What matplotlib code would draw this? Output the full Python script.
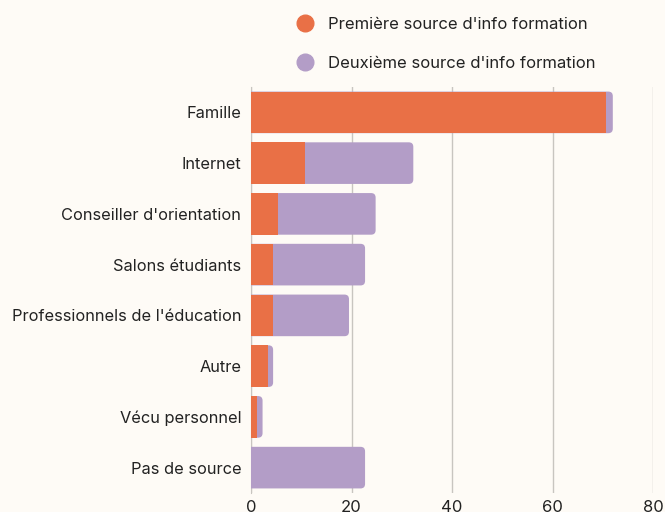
import matplotlib.pyplot as plt
from matplotlib.patches import FancyBboxPatch
from matplotlib.lines import Line2D

categories = ["Famille", "Internet", "Conseiller d'orientation", "Salons étudiants",
              "Professionnels de l'éducation", "Autre", "Vécu personnel", "Pas de source"]
premiere = [70.7, 10.7, 5.3, 4.4, 4.4, 3.4, 1.1, 0.0]
deuxieme = [1.3, 21.6, 19.5, 18.3, 15.1, 1.0, 1.2, 22.7]
xticks = [0, 20, 40, 60, 80]

orange = "#E97046"
purple = "#B39DC7"
bg = "#FEFBF6"

plt.rcParams['font.family'] = ['Inter', 'DejaVu Sans']

fig = plt.figure(figsize=(6.65, 5.12), dpi=100, facecolor=bg)
ax = fig.add_axes([251 / 665, 1 - 493 / 512, 402 / 665, 406 / 512], facecolor=bg)

y = list(range(len(categories)))
ax.set_xlim(0, 80)
ax.set_ylim(len(categories) - 0.5, -0.5)

h = 0.82
# x units per pixel vs y units per pixel, for round corners
aspect = (1 / 50.75) / (1 / 5.025)
for yi, a, b in zip(y, premiere, deuxieme):
    total = a + b
    p = FancyBboxPatch((-2, yi - h / 2), total + 2, h,
                       boxstyle="round,pad=0,rounding_size=0.9",
                       mutation_aspect=aspect, fc=purple, ec="none", zorder=3)
    ax.add_patch(p)
ax.barh(y, premiere, height=h, color=orange, zorder=4)

ax.set_yticks(y)
ax.set_yticklabels(categories, fontsize=11.8, color="#222222")
ax.set_xticks(xticks)
ax.set_xticklabels([str(t) for t in xticks], fontsize=12, color="#222222")
ax.tick_params(axis="y", length=0, pad=7)
ax.tick_params(axis="x", length=0, pad=5)
ax.grid(axis="x", color="#C8C5C0", linewidth=1, zorder=0)
for s in ["top", "right", "bottom"]:
    ax.spines[s].set_visible(False)
ax.spines["left"].set_color("#C8C5C0")

handles = [Line2D([], [], marker="o", linestyle="none", markersize=12, color=orange),
           Line2D([], [], marker="o", linestyle="none", markersize=12, color=purple)]
fig.legend(handles, ["Première source d'info formation", "Deuxième source d'info formation"],
           loc="upper left", bbox_to_anchor=(280 / 665, 1 - 2 / 512), frameon=False,
           fontsize=12, labelspacing=1.42, handletextpad=0.75, handlelength=1.2,
           labelcolor="#222222")

fig.savefig("out.png", dpi=100, facecolor=bg)
